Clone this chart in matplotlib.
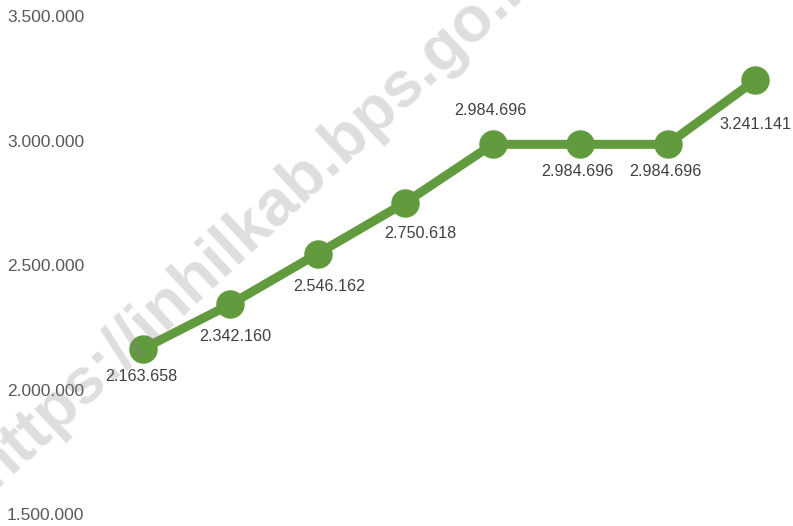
import matplotlib
matplotlib.use("Agg")
import matplotlib.pyplot as plt

# Data
categories = ["1", "2", "3", "4", "5", "6", "7", "8"]
values = [2163658, 2342160, 2546162, 2750618, 2984696, 2984696, 2984696, 3241141]
labels = ["2.163.658", "2.342.160", "2.546.162", "2.750.618", "2.984.696", "2.984.696", "2.984.696", "3.241.141"]
yticks = [1500000, 2000000, 2500000, 3000000, 3500000]
ytick_labels = ["1.500.000", "2.000.000", "2.500.000", "3.000.000", "3.500.000"]

# label offsets in points (style)
label_dx = [-1.5, 3.2, 8, 10.8, -1.8, -1.8, -1.8, 0]
label_dy = [-20, -23, -24, -22, 24.5, -19.5, -19.5, -31.7]

W, H = 793, 526
fig = plt.figure(figsize=(W / 100, H / 100), dpi=100)
plt.rcParams['font.family'] = ['Liberation Sans', 'DejaVu Sans']

left_px, right_px = 90, 793
top_px, bot_px = 16, 514
ax = fig.add_axes([left_px / W, 1 - bot_px / H, (right_px - left_px) / W, (bot_px - top_px) / H])
ax.set_facecolor("none")

x = list(range(len(categories)))
green = "#629b3e"
ax.plot(x, values, color=green, lw=6.5, marker="o", ms=19.5, solid_capstyle="round", zorder=3)

for xi, v, lab, dx, dy in zip(x, values, labels, label_dx, label_dy):
    ax.annotate(lab, (xi, v), xytext=(dx, dy), textcoords="offset points",
                ha="center", va="center", fontsize=11.6, color="#404040", zorder=4)

spacing = (755 - 143) / 7
ax.set_xlim(-(143 - left_px) / spacing, 7 + (right_px - 755) / spacing)
ax.set_ylim(1500000, 3500000)
ax.set_yticks(yticks)
ax.set_yticklabels(ytick_labels)
ax.set_xticks([])
for lab in ax.get_yticklabels():
    lab.set_horizontalalignment("left")
ax.tick_params(axis="y", length=0, pad=(left_px - 7) * 0.72, labelsize=12.5, labelcolor="#595959")
for s in ax.spines.values():
    s.set_visible(False)

# watermark
fig.text(-6 / W, 1 - 489 / H, "https://inhilkab.bps.go.id", rotation=43, rotation_mode="anchor",
         ha="left", va="baseline", fontsize=46.5, fontweight="bold", color="#808080", alpha=0.26, zorder=10)

fig.savefig("out.png", dpi=100)
